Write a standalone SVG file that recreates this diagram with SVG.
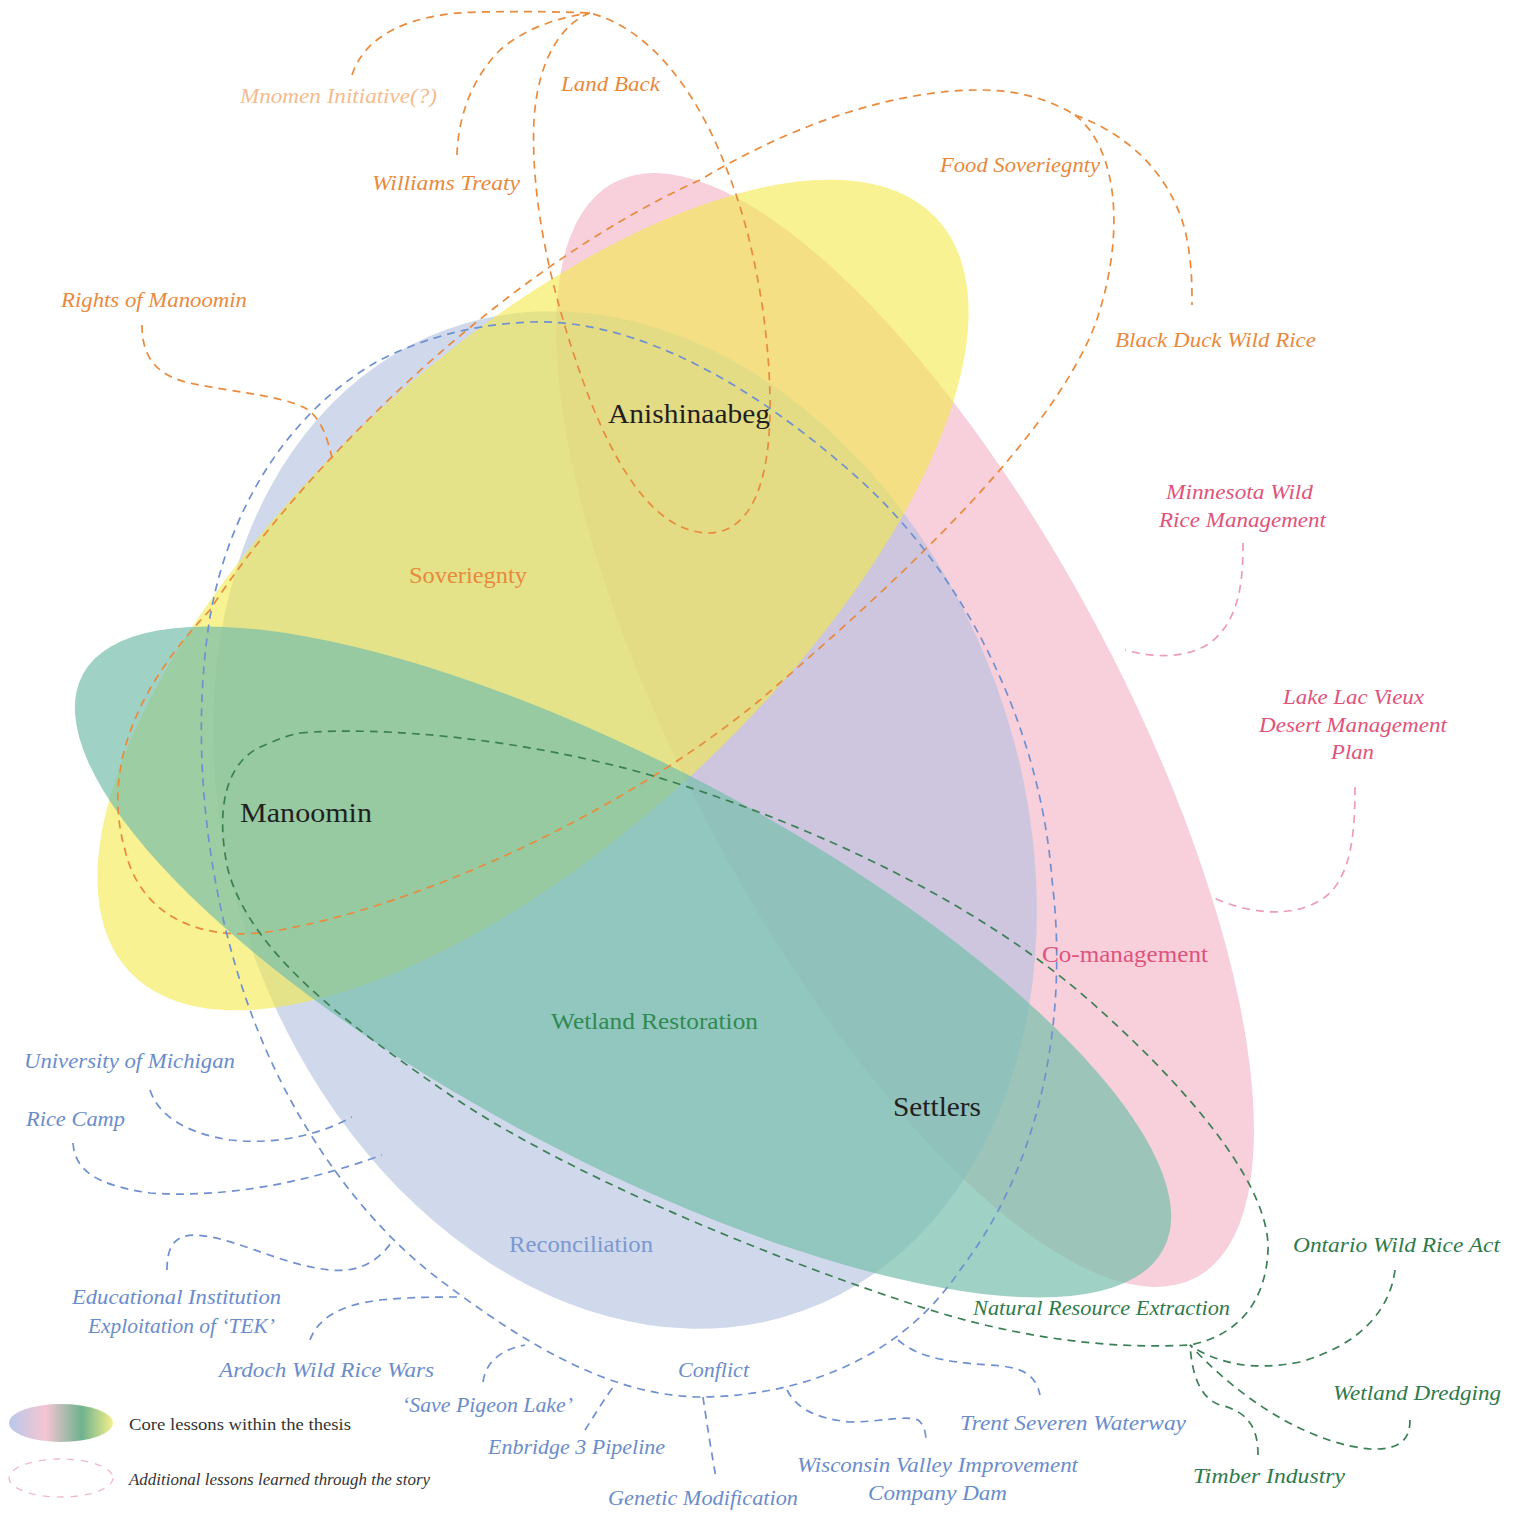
<svg xmlns="http://www.w3.org/2000/svg" width="1518" height="1514" viewBox="0 0 1518 1514">
  <defs>
    <linearGradient id="legendGrad" x1="0" y1="0" x2="1" y2="0">
      <stop offset="0" stop-color="#b9c8ea"/>
      <stop offset="0.35" stop-color="#f4c5d3"/>
      <stop offset="0.7" stop-color="#6fb28f"/>
      <stop offset="1" stop-color="#f4f08a"/>
    </linearGradient>
    <style>
      text { font-family: "Liberation Serif", "Times New Roman", serif; }
      .it { font-style: italic; font-size: 22px; }
      .core { font-size: 28px; fill: #1f1f1f; }
      .lesson { font-size: 23px; }
      .dash { fill: none; stroke-width: 1.7; stroke-dasharray: 8 6; }
      .d-orange { stroke: #e98a3c; }
      .d-blue { stroke: #6f90d0; }
      .d-green { stroke: #3b7f55; }
      .d-pink { stroke: #ee9cb3; }
      .t-orange { fill: #e8893c; }
      .t-pink { fill: #e0537b; }
      .t-blue { fill: #6b8ccb; }
      .t-green { fill: #2f7a4b; }
    </style>
  </defs>

  <rect width="1518" height="1514" fill="#ffffff"/>

  <!-- core lesson fields, drawn bottom to top -->
  <g id="field-comanagement">
    <ellipse cx="905" cy="730" rx="620" ry="218" transform="rotate(62 905 730)" fill="#f7d0db"/>
  </g>
  <g id="field-reconciliation">
    <ellipse cx="625" cy="820" rx="395" ry="522" transform="rotate(-20 625 820)" fill="#b0bfdf" fill-opacity="0.6"/>
  </g>
  <g id="field-soveriegnty">
    <ellipse cx="533" cy="595" rx="552" ry="240" transform="rotate(-43 533 595)" fill="#f3e949" fill-opacity="0.6"/>
  </g>
  <g id="field-wetland-restoration">
    <ellipse cx="623" cy="962" rx="612" ry="196" transform="rotate(28 623 962)" fill="#76bfab" fill-opacity="0.7"/>
  </g>

  <!-- dashed lesson loops and their branches -->
  <g id="connectors">
    <!-- orange: sovereignty -->
    <path class="dash d-orange" d="M590,13 C565,22 538,55 534,120 C530,200 552,300 590,400 C622,480 660,532 708,533 C752,533 771,480 770,400 C769,320 752,230 725,165 C700,100 655,30 590,13 Z"/>
    <path class="dash d-orange" d="M352,75 C365,35 410,13 480,12 C530,11 565,12 590,13"/>
    <path class="dash d-orange" d="M457,155 C458,120 470,80 500,50 C525,28 560,17 590,13"/>
    <path class="dash d-orange" d="M1075,115 C1120,150 1125,240 1095,325 C1050,440 900,580 760,700 C620,815 420,905 280,930 C200,945 140,915 125,850 C105,780 125,700 210,610 C300,470 500,270 700,180 C800,120 900,90 980,90 C1020,90 1050,100 1075,115 Z"/>
    <path class="dash d-orange" d="M1075,115 C1130,135 1170,175 1185,230 C1192,260 1192,285 1192,305"/>
    <path class="dash d-orange" d="M142,325 C142,350 150,372 185,382 C230,392 280,395 305,408 C322,418 328,440 333,462"/>

    <!-- blue: reconciliation -->
    <path class="dash d-blue" d="M530,322 C640,318 760,390 860,480 C960,570 1040,720 1052,880 C1068,1010 1045,1160 960,1270 C900,1360 800,1395 705,1397 C610,1398 520,1340 440,1280 C360,1220 290,1120 250,1010 C210,900 190,760 208,630 C225,510 290,410 380,360 C430,335 480,324 530,322 Z"/>
    <path class="dash d-blue" d="M150,1090 C158,1115 185,1133 230,1140 C275,1145 320,1135 352,1117"/>
    <path class="dash d-blue" d="M73,1143 C75,1170 95,1185 150,1193 C220,1198 300,1185 382,1155"/>
    <path class="dash d-blue" d="M167,1270 C167,1250 172,1235 195,1235 C235,1237 280,1265 330,1270 C360,1273 380,1260 393,1240"/>
    <path class="dash d-blue" d="M310,1340 C318,1318 340,1305 380,1300 C410,1297 440,1297 457,1297"/>
    <path class="dash d-blue" d="M483,1382 C486,1362 500,1350 525,1345"/>
    <path class="dash d-blue" d="M585,1430 C595,1415 605,1397 615,1385"/>
    <path class="dash d-blue" d="M703,1397 C707,1425 712,1455 716,1478"/>
    <path class="dash d-blue" d="M787,1390 C795,1405 810,1418 850,1422 C880,1422 905,1415 918,1420 C925,1425 926,1435 926,1442"/>
    <path class="dash d-blue" d="M898,1340 C915,1355 940,1362 990,1365 C1020,1367 1035,1372 1040,1395"/>

    <!-- green: wetland restoration -->
    <path class="dash d-green" d="M300,733 C380,726 520,738 650,775 C800,820 980,900 1100,1010 C1200,1100 1270,1190 1268,1250 C1266,1300 1240,1335 1190,1345 C1100,1350 1000,1335 900,1300 C750,1250 560,1170 450,1095 C340,1020 250,950 228,870 C215,810 225,760 265,745 C278,739 290,735 300,733 Z"/>
    <path class="dash d-green" d="M1395,1270 C1390,1310 1360,1345 1300,1362 C1250,1372 1215,1362 1190,1345"/>
    <path class="dash d-green" d="M1410,1420 C1410,1440 1400,1450 1370,1449 C1320,1445 1250,1410 1190,1345"/>
    <path class="dash d-green" d="M1258,1455 C1258,1430 1250,1412 1220,1405 C1200,1398 1192,1375 1190,1345"/>

    <!-- pink: co-management -->
    <path class="dash d-pink" d="M1243,543 C1243,580 1240,620 1210,643 C1185,660 1150,657 1125,650"/>
    <path class="dash d-pink" d="M1355,787 C1355,830 1352,870 1330,893 C1300,920 1250,915 1212,897"/>
  </g>

  <!-- lesson labels -->
  <g id="label-soveriegnty"><text class="lesson t-orange" x="409" y="583" textLength="118" lengthAdjust="spacingAndGlyphs">Soveriegnty</text></g>
  <g id="label-comanagement"><text class="lesson t-pink" x="1042" y="962" textLength="166" lengthAdjust="spacingAndGlyphs">Co-management</text></g>
  <g id="label-reconciliation"><text class="lesson" fill="#7b98d0" x="509" y="1252" textLength="144" lengthAdjust="spacingAndGlyphs">Reconciliation</text></g>
  <g id="label-wetland-restoration"><text class="lesson" fill="#2f8a52" x="551" y="1029" textLength="207" lengthAdjust="spacingAndGlyphs">Wetland Restoration</text></g>

  <!-- actors -->
  <g id="node-anishinaabeg"><text class="core" x="608" y="423" textLength="162" lengthAdjust="spacingAndGlyphs">Anishinaabeg</text></g>
  <g id="node-manoomin"><text class="core" x="240" y="822" textLength="132" lengthAdjust="spacingAndGlyphs">Manoomin</text></g>
  <g id="node-settlers"><text class="core" x="893" y="1116" textLength="88" lengthAdjust="spacingAndGlyphs">Settlers</text></g>

  <!-- orange lessons -->
  <g id="node-mnomen"><text class="it" fill="#f3bb8e" x="240" y="103" textLength="197" lengthAdjust="spacingAndGlyphs">Mnomen Initiative(?)</text></g>
  <g id="node-land-back"><text class="it t-orange" x="561" y="91" textLength="99" lengthAdjust="spacingAndGlyphs">Land Back</text></g>
  <g id="node-williams-treaty"><text class="it t-orange" x="372" y="190" textLength="148" lengthAdjust="spacingAndGlyphs">Williams Treaty</text></g>
  <g id="node-food-soveriegnty"><text class="it t-orange" x="940" y="172" textLength="160" lengthAdjust="spacingAndGlyphs">Food Soveriegnty</text></g>
  <g id="node-black-duck"><text class="it t-orange" x="1115" y="347" textLength="201" lengthAdjust="spacingAndGlyphs">Black Duck Wild Rice</text></g>
  <g id="node-rights-of-manoomin"><text class="it t-orange" x="61" y="307" textLength="186" lengthAdjust="spacingAndGlyphs">Rights of Manoomin</text></g>

  <!-- pink lessons -->
  <g id="node-minnesota">
    <text class="it t-pink" x="1166" y="499" textLength="147" lengthAdjust="spacingAndGlyphs">Minnesota Wild</text>
    <text class="it t-pink" x="1159" y="527" textLength="167" lengthAdjust="spacingAndGlyphs">Rice Management</text>
  </g>
  <g id="node-lac-vieux">
    <text class="it t-pink" x="1283" y="704" textLength="141" lengthAdjust="spacingAndGlyphs">Lake Lac Vieux</text>
    <text class="it t-pink" x="1259" y="732" textLength="188" lengthAdjust="spacingAndGlyphs">Desert Management</text>
    <text class="it t-pink" x="1331" y="759" textLength="43" lengthAdjust="spacingAndGlyphs">Plan</text>
  </g>

  <!-- blue lessons -->
  <g id="node-umich"><text class="it t-blue" x="24" y="1068" textLength="211" lengthAdjust="spacingAndGlyphs">University of Michigan</text></g>
  <g id="node-rice-camp"><text class="it t-blue" x="26" y="1126" textLength="99" lengthAdjust="spacingAndGlyphs">Rice Camp</text></g>
  <g id="node-educational">
    <text class="it t-blue" x="72" y="1304" textLength="209" lengthAdjust="spacingAndGlyphs">Educational Institution</text>
    <text class="it t-blue" x="88" y="1333" textLength="187" lengthAdjust="spacingAndGlyphs">Exploitation of ‘TEK’</text>
  </g>
  <g id="node-ardoch"><text class="it t-blue" x="219" y="1377" textLength="215" lengthAdjust="spacingAndGlyphs">Ardoch Wild Rice Wars</text></g>
  <g id="node-pigeon-lake"><text class="it t-blue" x="402" y="1412" textLength="171" lengthAdjust="spacingAndGlyphs">‘Save Pigeon Lake’</text></g>
  <g id="node-enbridge"><text class="it t-blue" x="488" y="1454" textLength="177" lengthAdjust="spacingAndGlyphs">Enbridge 3 Pipeline</text></g>
  <g id="node-conflict"><text class="it t-blue" x="678" y="1377" textLength="71" lengthAdjust="spacingAndGlyphs">Conflict</text></g>
  <g id="node-genetic"><text class="it t-blue" x="608" y="1505" textLength="190" lengthAdjust="spacingAndGlyphs">Genetic Modification</text></g>
  <g id="node-wisconsin">
    <text class="it t-blue" x="797" y="1472" textLength="281" lengthAdjust="spacingAndGlyphs">Wisconsin Valley Improvement</text>
    <text class="it t-blue" x="868" y="1500" textLength="139" lengthAdjust="spacingAndGlyphs">Company Dam</text>
  </g>
  <g id="node-trent"><text class="it t-blue" x="960" y="1430" textLength="226" lengthAdjust="spacingAndGlyphs">Trent Severen Waterway</text></g>

  <!-- green lessons -->
  <g id="node-extraction"><text class="it t-green" x="973" y="1315" textLength="257" lengthAdjust="spacingAndGlyphs">Natural Resource Extraction</text></g>
  <g id="node-ontario"><text class="it t-green" x="1293" y="1252" textLength="207" lengthAdjust="spacingAndGlyphs">Ontario Wild Rice Act</text></g>
  <g id="node-dredging"><text class="it t-green" x="1333" y="1400" textLength="168" lengthAdjust="spacingAndGlyphs">Wetland Dredging</text></g>
  <g id="node-timber"><text class="it t-green" x="1193" y="1483" textLength="152" lengthAdjust="spacingAndGlyphs">Timber Industry</text></g>

  <!-- legend -->
  <g id="legend">
    <ellipse cx="61" cy="1423" rx="52" ry="19" fill="url(#legendGrad)"/>
    <text x="129" y="1430" font-size="17" fill="#333333" textLength="222" lengthAdjust="spacingAndGlyphs">Core lessons within the thesis</text>
    <ellipse cx="61" cy="1478" rx="52" ry="19" fill="none" stroke="#f2b9c6" stroke-width="1.3" stroke-dasharray="7 7"/>
    <text x="129" y="1485" font-size="16" font-style="italic" fill="#333333" textLength="301" lengthAdjust="spacingAndGlyphs">Additional lessons learned through the story</text>
  </g>
</svg>
